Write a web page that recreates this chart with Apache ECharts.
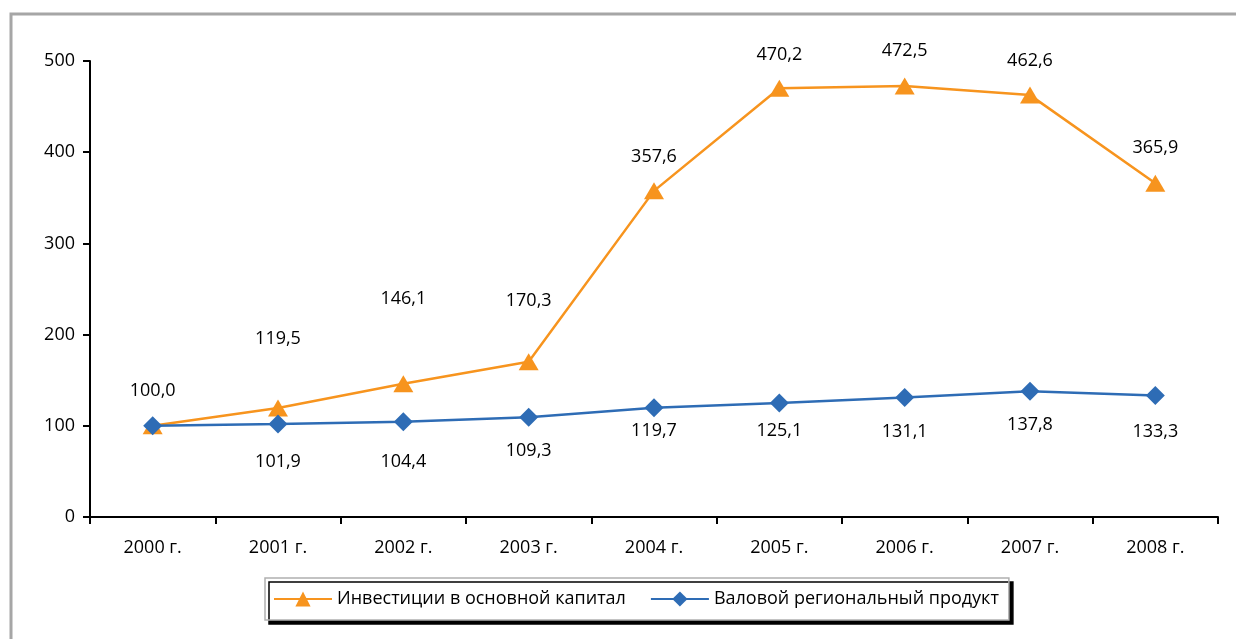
<!DOCTYPE html>
<html>
<head>
<meta charset="utf-8">
<script src="https://cdn.jsdelivr.net/npm/echarts@6/dist/echarts.min.js"></script>
<style>
	html, body { margin: 0; padding: 0; background: #fff; }
	#chart { width: 1236px; height: 639px; }
</style>
</head>
<body>
<div id="chart"></div>
<script>
// Datos del gráfico
const años = ['2000 г.', '2001 г.', '2002 г.', '2003 г.', '2004 г.', '2005 г.', '2006 г.', '2007 г.', '2008 г.']
const inversiones = [100.0, 119.5, 146.1, 170.3, 357.6, 470.2, 472.5, 462.6, 365.9]
const productoRegional = [100.0, 101.9, 104.4, 109.3, 119.7, 125.1, 131.1, 137.8, 133.3]
const nombreInversiones = 'Инвестиции в основной капитал'
const nombreProducto = 'Валовой региональный продукт'

// Desplazamiento vertical de las etiquetas (px), tal como están en la imagen
const despInversiones = [-35, -69, -85, -61, -34, -33, -35, -34, -35]
const despProducto = [0, 38, 40, 34, 23, 28, 34, 34, 36]

const fuente = "'Open Sans', sans-serif"
const naranja = '#F7941E'
const azul = '#2E6CB5'

const fmt = (v) => v.toFixed(1).replace('.', ',')

const chart = echarts.init(document.getElementById('chart'))

chart.setOption({
	animation: false,
	textStyle: { fontFamily: fuente },
	graphic: [
		{
			type: 'rect',
			shape: { x: 11, y: 14, width: 1400, height: 800 },
			style: { fill: 'none', stroke: '#A6A6A6', lineWidth: 3 },
			silent: true,
		},
	],
	grid: {
		left: 90,
		right: 18,
		top: 61,
		bottom: 122,
		containLabel: false,
	},
	legend: {
		left: 265,
		top: 578,
		padding: [12, 10, 12, 8],
		itemGap: 24,
		itemWidth: 58,
		itemHeight: 19,
		backgroundColor: '#fff',
		borderColor: '#B0B0B0',
		borderWidth: 1.5,
		shadowColor: '#000',
		shadowBlur: 0,
		shadowOffsetX: 4,
		shadowOffsetY: 4,
		textStyle: { fontSize: 18, color: '#000', fontFamily: fuente },
		data: [nombreInversiones, nombreProducto],
	},
	xAxis: {
		type: 'category',
		data: años,
		boundaryGap: true,
		axisLine: { lineStyle: { color: '#000', width: 2 } },
		axisTick: { show: true, length: 7, lineStyle: { color: '#000', width: 2 } },
		axisLabel: { color: '#000', fontSize: 18, margin: 22, fontFamily: fuente },
		splitLine: { show: false },
	},
	yAxis: {
		type: 'value',
		min: 0,
		max: 500,
		interval: 100,
		axisLine: { show: true, lineStyle: { color: '#000', width: 2 } },
		axisTick: { show: true, length: 7, lineStyle: { color: '#000', width: 2 } },
		axisLabel: { color: '#000', fontSize: 18, margin: 15, fontFamily: fuente },
		splitLine: { show: false },
	},
	series: [
		{
			name: nombreInversiones,
			type: 'line',
			data: inversiones.map((v, i) => ({
				value: v,
				label: { offset: [0, despInversiones[i]] },
			})),
			symbol: 'triangle',
			symbolSize: [20, 17],
			lineStyle: { color: naranja, width: 2.5 },
			itemStyle: { color: naranja },
			label: {
				show: true,
				position: 'inside',
				color: '#000',
				fontSize: 18,
				fontFamily: fuente,
				formatter: (p) => fmt(p.value),
			},
		},
		{
			name: nombreProducto,
			type: 'line',
			data: productoRegional.map((v, i) => ({
				value: v,
				label: { show: i > 0, offset: [0, despProducto[i]] },
			})),
			symbol: 'diamond',
			symbolSize: [19, 19],
			lineStyle: { color: azul, width: 2.5 },
			itemStyle: { color: azul },
			label: {
				show: true,
				position: 'inside',
				color: '#000',
				fontSize: 18,
				fontFamily: fuente,
				formatter: (p) => fmt(p.value),
			},
		},
	],
})
</script>
</body>
</html>
